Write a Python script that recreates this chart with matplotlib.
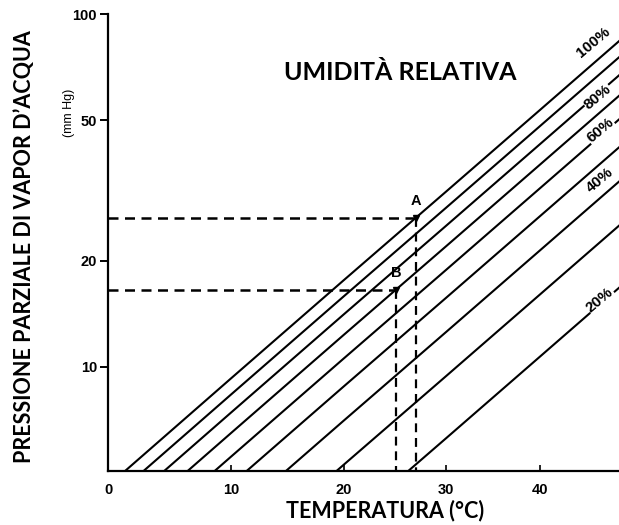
import numpy as np
import matplotlib.pyplot as plt
from matplotlib.ticker import NullLocator, FixedLocator, FixedFormatter

# saturation vapour pressure (mm Hg)
temps = [0, 10, 20, 30, 40, 50]
p_sat = [4.6, 9.3, 17.6, 31.4, 53.5, 87.4]

# relative humidity curves drawn (%)
rh_levels = [100, 90, 80, 70, 60, 50, 40, 30, 20]
rh_labels = ['100%', '80%', '60%', '40%', '20%']

# marked points A and B
point_names = ['A', 'B']
point_t = [27, 25]
point_p = [26.5, 16.5]

x_ticks = [0, 10, 20, 30, 40]
y_ticks = [10, 20, 50, 100]

tick_font = 'Liberation Sans'
title_font = 'Lato'

fig = plt.figure(figsize=(6.19, 5.25), dpi=100)
ax = fig.add_axes([0.1745, 0.1029, 0.8255, 0.8704])


def fwd(t):
    t = np.asarray(t, dtype=float)
    return t / (t + 200.0)


def inv(g):
    g = np.asarray(g, dtype=float)
    return 200.0 * g / (1.0 - g)


ax.set_xscale('function', functions=(fwd, inv))
ax.set_yscale('log')
ax.set_xlim(0, 49.1)
ax.set_ylim(5.07, 100)

# humidity lines
for rh in rh_levels:
    ax.plot(temps, np.array(p_sat) * rh / 100.0, color='black', lw=1.5,
            solid_capstyle='butt')

# dashed guides for A and B
y0 = ax.get_ylim()[0]
for name, t, p in zip(point_names, point_t, point_p):
    ax.plot([0, t], [p, p], color='black', lw=1.8, dashes=(4, 2.6))
    ax.plot([t, t], [p, y0], color='black', lw=1.6, dashes=(4, 2.6))
    ax.plot([t], [p], marker='v', color='black', ms=5)
    ax.annotate(name, (t, p), xytext=(0, 7), textcoords='offset points',
                ha='center', va='bottom', fontsize=10.5, fontweight='bold',
                family=tick_font)

# curve labels (axes fraction positions)
lab_x = [0.949, 0.959, 0.963, 0.962, 0.963]
lab_y = [0.937, 0.818, 0.746, 0.637, 0.374]
for txt, lx, ly in zip(rh_labels, lab_x, lab_y):
    ax.text(lx, ly, txt, transform=ax.transAxes, rotation=40,
            ha='center', va='center', fontsize=11, fontweight='bold',
            family=tick_font, bbox=dict(facecolor='white', edgecolor='none', pad=0.3),
            clip_on=False)

ax.text(0.571, 0.871, 'UMIDITÀ RELATIVA', transform=ax.transAxes,
        ha='center', va='center', fontsize=18, fontweight='bold', family=title_font)

# axes styling
for s in ['top', 'right']:
    ax.spines[s].set_visible(False)
for s in ['left', 'bottom']:
    ax.spines[s].set_linewidth(1.6)

ax.xaxis.set_major_locator(FixedLocator(x_ticks))
ax.xaxis.set_major_formatter(FixedFormatter([str(v) for v in x_ticks]))
ax.xaxis.set_minor_locator(NullLocator())
ax.yaxis.set_major_locator(FixedLocator(y_ticks))
ax.yaxis.set_major_formatter(FixedFormatter([str(v) for v in y_ticks]))
ax.yaxis.set_minor_locator(NullLocator())
ax.tick_params(axis='x', direction='in', length=4, width=1.2, pad=9)
ax.tick_params(axis='y', direction='out', length=6, width=1.4, pad=2)
for lab in ax.get_xticklabels() + ax.get_yticklabels():
    lab.set_family(tick_font)
    lab.set_fontweight('bold')
    lab.set_fontsize(10.5)

fig.text(0.04, 0.53, "PRESSIONE PARZIALE DI VAPOR D\u2019ACQUA", rotation=90,
         ha='center', va='center', fontsize=15.5, fontweight='bold', family=title_font)
fig.text(0.112, 0.785, '(mm Hg)', rotation=90, ha='center', va='center',
         fontsize=9, family=tick_font)
fig.text(0.622, 0.027, 'TEMPERATURA (°C)', ha='center', va='center',
         fontsize=15.5, fontweight='bold', family=title_font)

fig.savefig('out.png', dpi=100)
